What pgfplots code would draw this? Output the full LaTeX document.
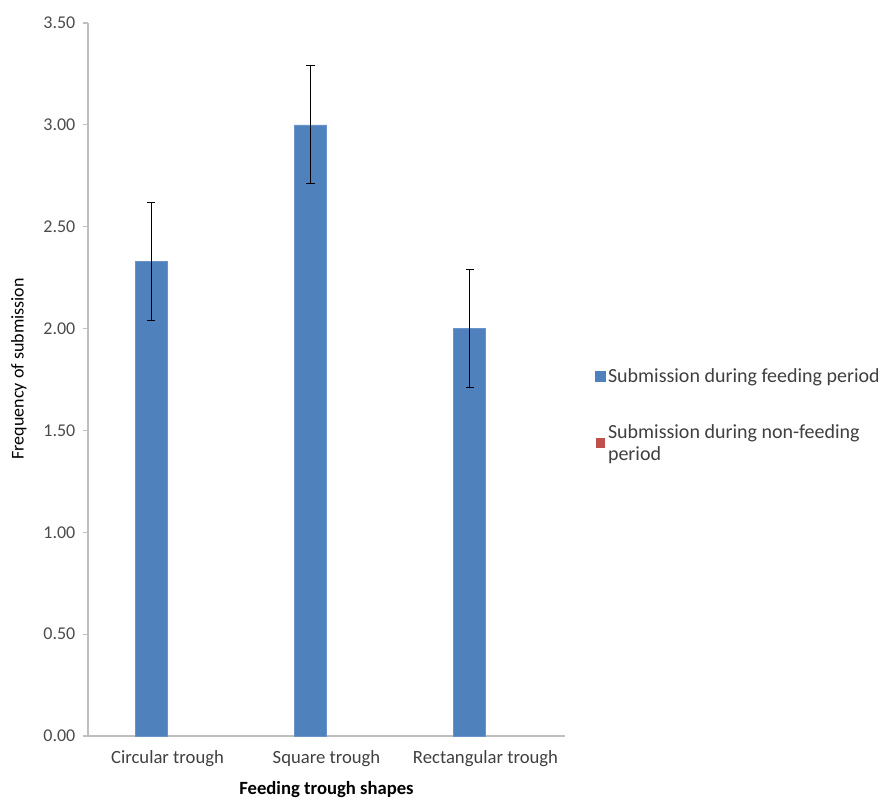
\documentclass[border=0pt]{standalone}
\usepackage{pgfplots}
\pgfplotsset{compat=1.18}
\usepackage{fontspec}
\setmainfont{Carlito}
\definecolor{barblue}{HTML}{4F81BD}
\definecolor{barred}{HTML}{C0504D}
\definecolor{axgray}{HTML}{BFBFBF}
\begin{document}
\begin{tikzpicture}
\path[use as bounding box] (-66pt,-48.75pt) rectangle (592.5pt,552pt);
\begin{axis}[
  scale only axis,
  width=357.75pt, height=534.75pt,
  xmin=-0.5, xmax=2.5,
  ymin=0, ymax=3.5,
  ytick={0,0.5,...,3.5},
  xtick={0,1,2},
  xticklabels={Circular trough, Square trough, Rectangular trough},
  x tick style={draw=none},
  y tick style={axgray, line width=0.8pt},
  tick align=outside,
  major tick length=4pt,
  axis x line*=bottom,
  axis y line*=left,
  axis line style={axgray, line width=1pt},
  yticklabel style={/pgf/number format/.cd, fixed, fixed zerofill, precision=2, /tikz/.cd, font=\fontsize{13.5}{15}\selectfont, text=black!70, xshift=-2pt},
  xticklabel style={font=\fontsize{14}{16}\selectfont, text=black!75, yshift=-3pt},
  /pgf/number format/assume math mode=true,
  ylabel={Frequency of submission},
  ylabel style={font=\fontsize{13.5}{15}\selectfont, at={(axis description cs:-0.145,0.515)}, anchor=center},
  xlabel={\textbf{Feeding trough shapes}},
  xlabel style={font=\fontsize{14}{16}\selectfont, at={(axis description cs:0.5,-0.0757)}, anchor=center},
  ybar=0pt,
  bar width=24pt,
  legend style={draw=none, at={(rel axis cs:1.055,0.45)}, anchor=west,
    font=\fontsize{15}{16.5}\selectfont, text=black!75,
    nodes={align=left, anchor=west}, row sep=26pt, legend cell align=left},
  legend image code/.code={\fill[barblue] (0pt,-3.5pt) rectangle (7pt,3.5pt);},
  clip=false,
]
\addplot[fill=barblue, draw=barblue!85!white, error bars/.cd, y dir=both, y explicit,
  error bar style={black, line width=0.8pt}, error mark options={rotate=90, mark size=3pt, black, line width=0.8pt}]
  coordinates {(0,2.33) +- (0,0.29) (1,3.00) +- (0,0.29) (2,2.00) +- (0,0.29)};
\addlegendentry{Submission during feeding period}
\addplot[fill=none, draw=none, legend image code/.code={\fill[barred] (0pt,-3.5pt) rectangle (7pt,3.5pt);}]
  coordinates {(0,0) (1,0) (2,0)};
\addlegendentry{Submission during non-feeding\\period}
\end{axis}
\end{tikzpicture}
\end{document}
